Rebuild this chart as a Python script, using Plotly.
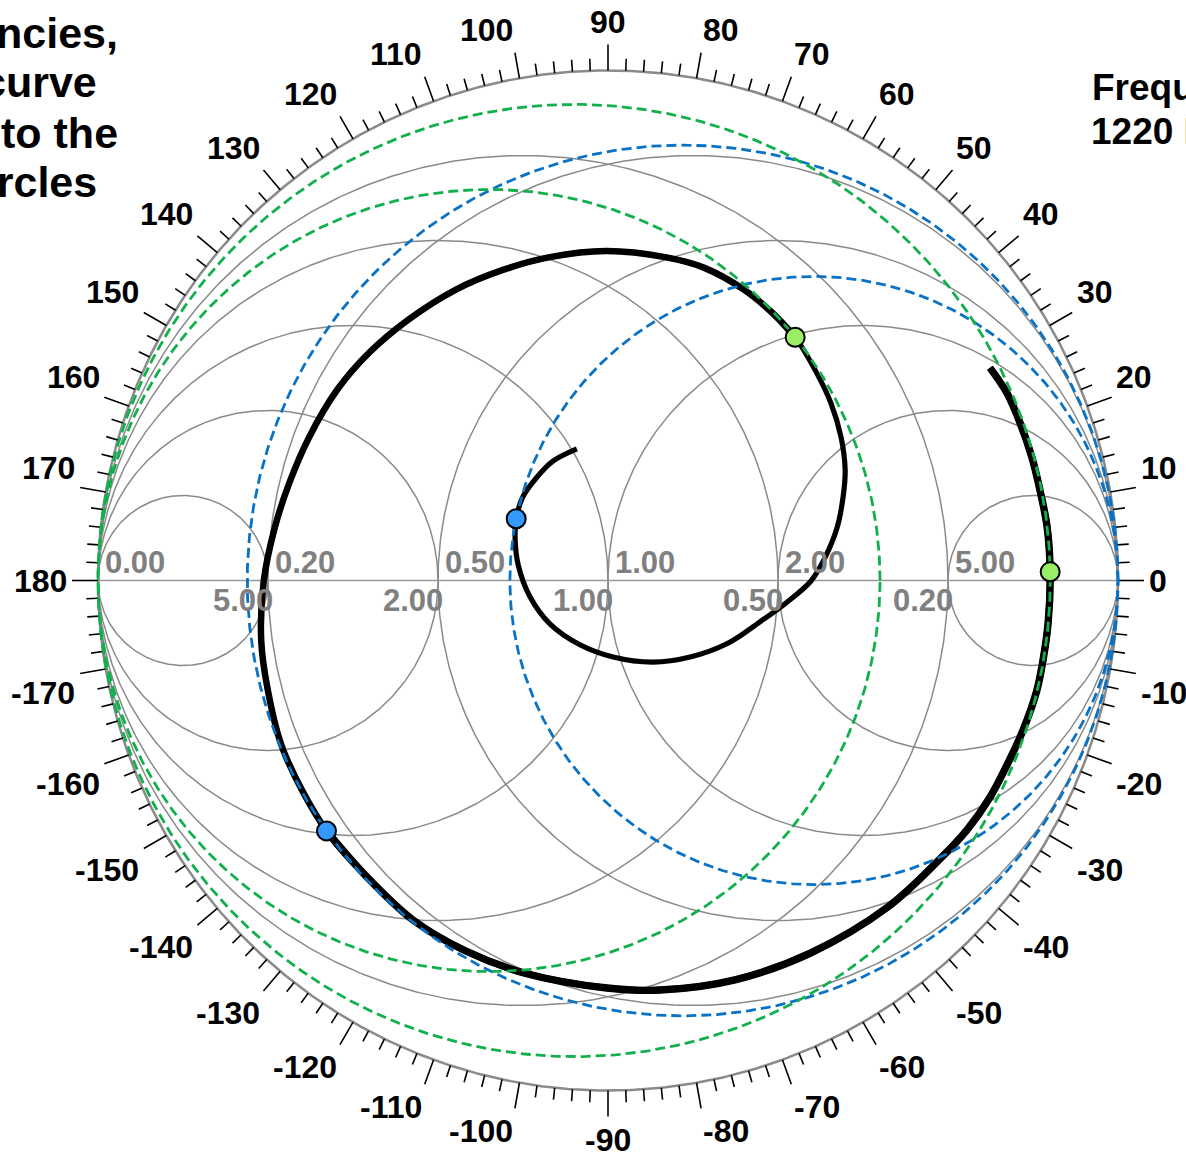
import numpy as np
import plotly.graph_objects as go

# ---------------------------------------------------------------------------
# Data
# ---------------------------------------------------------------------------
# Reflection-coefficient locus (real / imaginary parts), swept in frequency
gamma_re = [0.749, 0.782, 0.808, 0.831, 0.847, 0.861, 0.867, 0.863, 0.853, 0.841,
            0.814, 0.790, 0.749, 0.704, 0.649, 0.549, 0.398, 0.249, 0.102, -0.002,
            -0.163, -0.282, -0.382, -0.473, -0.552, -0.637, -0.667, -0.680, -0.675, -0.653,
            -0.625, -0.586, -0.531, -0.469, -0.392, -0.299, -0.206, -0.114, -0.004, 0.112,
            0.189, 0.267, 0.322, 0.367, 0.406, 0.437, 0.457, 0.465, 0.461, 0.449,
            0.425, 0.398, 0.349, 0.298, 0.235, 0.161, 0.088, 0.010, -0.055, -0.114,
            -0.153, -0.176, -0.182, -0.180, -0.167, -0.139, -0.108, -0.061]
gamma_im = [0.417, 0.368, 0.309, 0.242, 0.177, 0.105, 0.017, -0.083, -0.156, -0.215,
            -0.293, -0.346, -0.425, -0.489, -0.548, -0.640, -0.730, -0.783, -0.803, -0.799,
            -0.770, -0.725, -0.666, -0.581, -0.491, -0.332, -0.215, -0.117, -0.001, 0.105,
            0.191, 0.281, 0.374, 0.446, 0.511, 0.570, 0.609, 0.634, 0.646, 0.634,
            0.613, 0.570, 0.525, 0.477, 0.413, 0.348, 0.281, 0.217, 0.164, 0.103,
            0.044, -0.001, -0.044, -0.081, -0.123, -0.150, -0.160, -0.150, -0.126, -0.085,
            -0.032, 0.030, 0.079, 0.121, 0.164, 0.203, 0.234, 0.258]

# Points where the locus touches a constant-conductance circle
touch_g_re = [0.367, 0.867]
touch_g_im = [0.477, 0.017]
# Points where the locus touches a constant-resistance circle
touch_r_re = [-0.180, -0.552]
touch_r_im = [0.121, -0.491]

# Smith grid
grid_values = [0.2, 0.5, 1.0, 2.0, 5.0]
r_label_values = [0.0, 0.2, 0.5, 1.0, 2.0, 5.0]
g_label_values = [5.0, 2.0, 1.0, 0.5, 0.2]
angle_labels = list(range(-170, 190, 10))

left_lines = ["At these frequencies,", "the impedance curve", "is tangent to the", "constant-Q circles"]
right_lines = ["Frequency:", "1220 Hz"]

# ---------------------------------------------------------------------------
# Geometry helpers (chart is 510 px per unit of |Gamma|)
# ---------------------------------------------------------------------------
W, H = 1186, 1152
CX, CY, S = 608.0, 580.5, 510.0
PX = 1.0 / S


def gx(px):
    return (px - CX) / S


def gy(py):
    return (CY - py) / S


t = np.linspace(0, 2 * np.pi, 721)


def circle(cx, cy, rad):
    return cx + rad * np.cos(t), cy + rad * np.sin(t)


fig = go.Figure()

GRID = "#8a8a8a"

# constant-resistance and constant-conductance circles
for v in grid_values:
    x, y = circle(v / (1 + v), 0, 1 / (1 + v))
    fig.add_trace(go.Scatter(x=x, y=y, mode="lines", line=dict(color=GRID, width=1.5), hoverinfo="skip"))
    x, y = circle(-v / (1 + v), 0, 1 / (1 + v))
    fig.add_trace(go.Scatter(x=x, y=y, mode="lines", line=dict(color=GRID, width=1.5), hoverinfo="skip"))

# real axis and outer boundary
fig.add_trace(go.Scatter(x=[-1, 1], y=[0, 0], mode="lines", line=dict(color="#9a9a9a", width=1.5), hoverinfo="skip"))
x, y = circle(0, 0, 1)
fig.add_trace(go.Scatter(x=x, y=y, mode="lines", line=dict(color="#8a8a8a", width=2.5), hoverinfo="skip"))

# angle ticks every 2 degrees, longer every 10
tx, ty = [], []
for a in range(-178, 182, 2):
    th = np.radians(a)
    ln = 26 if a % 10 == 0 else 12
    r1 = 1 + ln * PX
    tx += [np.cos(th), r1 * np.cos(th), None]
    ty += [np.sin(th), r1 * np.sin(th), None]
fig.add_trace(go.Scatter(x=tx, y=ty, mode="lines", line=dict(color="black", width=1.6), hoverinfo="skip"))

# impedance locus: full sweep, then heavier overlays on the outer turns
# (overlays end on the touching points, where the markers sit)
for i1, w in [(len(gamma_re), 5.2), (44, 6.5), (25, 7.4)]:
    fig.add_trace(go.Scatter(x=gamma_re[:i1], y=gamma_im[:i1], mode="lines",
                             line=dict(color="black", width=w, shape="spline", smoothing=1.0),
                             hoverinfo="skip"))

# circles through the touching points
BLUE, GREEN = "#0a72c4", "#12b04c"
for re_, im_ in zip(touch_r_re, touch_r_im):
    gam = complex(re_, im_)
    r = ((1 + gam) / (1 - gam)).real
    x, y = circle(r / (1 + r), 0, 1 / (1 + r))
    fig.add_trace(go.Scatter(x=x, y=y, mode="lines", line=dict(color=BLUE, width=2.8, dash="10px,5px"), hoverinfo="skip"))
for re_, im_ in zip(touch_g_re, touch_g_im):
    gam = complex(re_, im_)
    g = ((1 - gam) / (1 + gam)).real
    x, y = circle(-g / (1 + g), 0, 1 / (1 + g))
    fig.add_trace(go.Scatter(x=x, y=y, mode="lines", line=dict(color=GREEN, width=2.8, dash="10px,5px"), hoverinfo="skip"))

# touching-point markers
fig.add_trace(go.Scatter(x=touch_r_re, y=touch_r_im, mode="markers",
                         marker=dict(size=19, color="#3399ff", line=dict(color="black", width=2)), hoverinfo="skip"))
fig.add_trace(go.Scatter(x=touch_g_re, y=touch_g_im, mode="markers",
                         marker=dict(size=19, color="#99ee66", line=dict(color="black", width=2)), hoverinfo="skip"))

annotations = []
FONT = "Arial, Liberation Sans, sans-serif"

# angle labels: anchored by the corner that faces the chart
FS_A = 32
R_LAB = 1 + 30 * PX
for a in angle_labels:
    th = np.radians(a)
    c, s = np.cos(th), np.sin(th)
    xa = "left" if c > 1e-6 else ("right" if c < -1e-6 else "center")
    ya = "bottom" if s > 1e-6 else ("top" if s < -1e-6 else "middle")
    annotations.append(dict(x=R_LAB * c, y=R_LAB * s, text="<b>%d</b>" % a, showarrow=False,
                            xanchor=xa, yanchor=ya, borderpad=0,
                            font=dict(family=FONT, size=FS_A, color="black")))

# grid value labels on the real axis
FS_G = 31
for v in r_label_values:
    xi = (v - 1) / (v + 1)
    annotations.append(dict(x=xi + 5 * PX, y=gy(562), text="<b>%.2f</b>" % v, showarrow=False,
                            xanchor="left", yanchor="middle",
                            font=dict(family=FONT, size=FS_G, color="#808080")))
for v in g_label_values:
    xi = (1 - v) / (1 + v)
    annotations.append(dict(x=xi + 7 * PX, y=gy(600), text="<b>%.2f</b>" % v, showarrow=False,
                            xanchor="right", yanchor="middle",
                            font=dict(family=FONT, size=FS_G, color="#808080")))

# side notes
FS_L = 43
for line, right_px, base_px in zip(left_lines, [120, 99, 120, 99], [48, 97, 148, 197]):
    annotations.append(dict(x=gx(right_px), y=gy(base_px - 0.3465 * FS_L), text="<b>%s</b>" % line,
                            showarrow=False, xanchor="right", yanchor="middle", align="right",
                            font=dict(family=FONT, size=FS_L, color="black")))
FS_R = 37
for line, left_px, base_px in zip(right_lines, [1090, 1089], [100, 144]):
    annotations.append(dict(x=gx(left_px), y=gy(base_px - 0.3465 * FS_R), text="<b>%s</b>" % line,
                            showarrow=False, xanchor="left", yanchor="middle", align="left",
                            font=dict(family=FONT, size=FS_R, color="black")))

fig.update_layout(
    width=W, height=H,
    margin=dict(l=0, r=0, t=0, b=0),
    paper_bgcolor="white", plot_bgcolor="white",
    showlegend=False,
    xaxis=dict(range=[gx(0), gx(W)], visible=False, fixedrange=True),
    yaxis=dict(range=[gy(H), gy(0)], visible=False, fixedrange=True),
    annotations=annotations,
)

fig.write_html("out.html", config={"displayModeBar": False})
